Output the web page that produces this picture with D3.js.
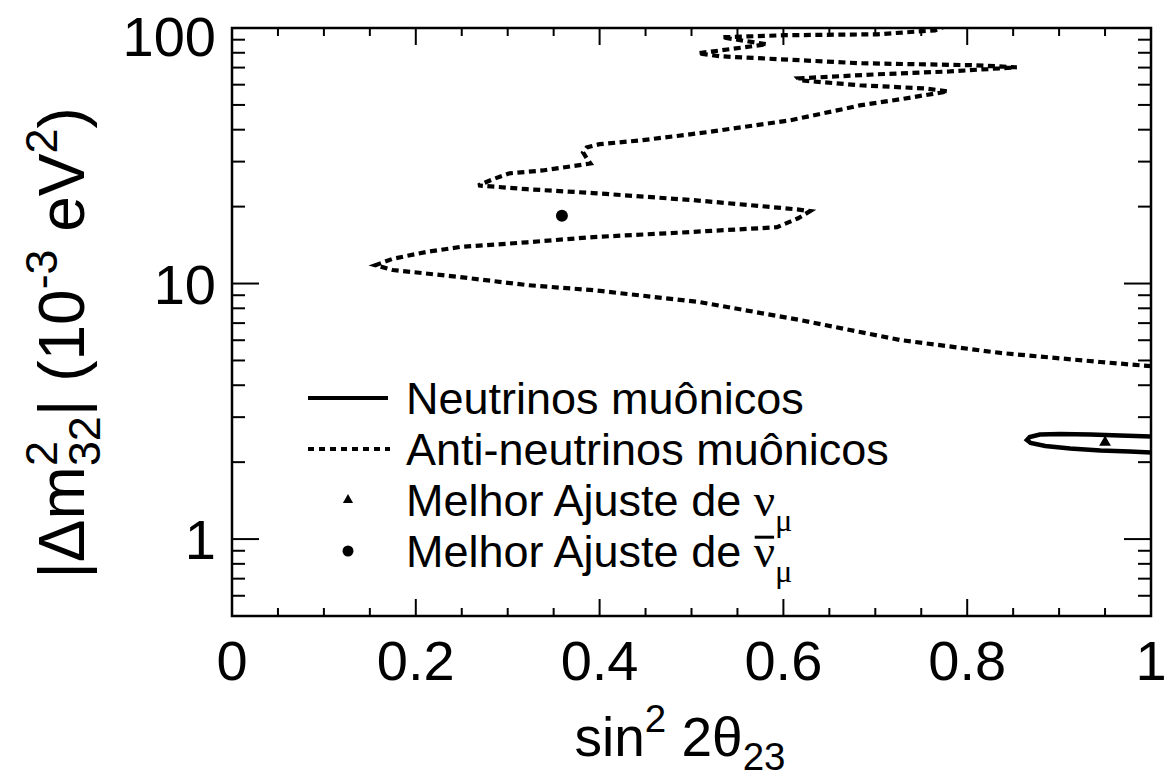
<!DOCTYPE html>
<html>
<head>
<meta charset="utf-8">
<script src="https://cdn.jsdelivr.net/npm/d3@7"></script>
<style>
  body { margin: 0; background: #fff; }
  text { font-family: "Liberation Sans", Arial, Helvetica, sans-serif; fill: #000; }
</style>
</head>
<body>
<svg id="chart" width="1171" height="780"></svg>
<script>
// Axis ranges and tick labels
const xDomain = [0, 1];
const yDomain = [0.5, 100];
const xTickValues = [0, 0.2, 0.4, 0.6, 0.8, 1];
const xTickLabels = ["0", "0.2", "0.4", "0.6", "0.8", "1"];
const yTickValues = [1, 10, 100];
const yTickLabels = ["1", "10", "100"];

// 90% C.L. contour for muon anti-neutrinos (sin^2 2theta, |dm^2| in 1e-3 eV^2)
const antiSin = [1.000, 0.945, 0.836, 0.727, 0.618, 0.509, 0.393, 0.321, 0.248, 0.175,
                 0.156, 0.175, 0.212, 0.248, 0.321, 0.393, 0.484, 0.593, 0.616, 0.629,
                 0.615, 0.575, 0.502, 0.393, 0.321, 0.268, 0.284, 0.302, 0.338, 0.390,
                 0.386, 0.382, 0.386, 0.400, 0.447, 0.517, 0.607, 0.669, 0.683, 0.727,
                 0.779, 0.754, 0.683, 0.618, 0.616, 0.702, 0.781, 0.854, 0.808, 0.683,
                 0.618, 0.531, 0.507, 0.582, 0.533, 0.602, 0.702, 0.765, 0.776];
const antiDm = [4.75, 4.93, 5.35, 6.01, 7.20, 8.46, 9.42, 9.86, 10.6, 11.3,
                11.8, 12.5, 13.3, 13.9, 14.5, 15.2, 15.8, 16.6, 18.0, 19.2,
                19.5, 20.1, 21.2, 22.6, 23.4, 24.2, 25.6, 27.0, 27.7, 29.5,
                30.9, 32.6, 34.1, 35.1, 36.4, 39.1, 43.5, 48.5, 49.8, 52.6,
                56.5, 58.0, 59.7, 62.4, 63.5, 65.9, 67.6, 70.2, 71.5, 72.8,
                74.8, 77.5, 79.6, 86.3, 92.0, 93.7, 94.5, 97.9, 101.6];

// 90% C.L. contour for muon neutrinos
const nuSin = [1.02, 1.000, 0.966, 0.934, 0.901, 0.879, 0.868, 0.865, 0.869, 0.885, 0.912, 0.945, 0.977, 1.000, 1.02];
const nuDm  = [2.51, 2.520, 2.544, 2.567, 2.578, 2.567, 2.508, 2.442, 2.377, 2.314, 2.262, 2.222, 2.202, 2.183, 2.17];

// Best-fit points
const bestNu = { sin: 0.950, dm: 2.39 };
const bestAnti = { sin: 0.359, dm: 18.4 };

const legendLabels = ["Neutrinos muônicos", "Anti-neutrinos muônicos", "Melhor Ajuste de ", "Melhor Ajuste de "];

// Layout
const frame = { left: 232, right: 1151, top: 28, bottom: 616 };
const svg = d3.select("#chart");

const x = d3.scaleLinear().domain(xDomain).range([frame.left, frame.right]);
const y = d3.scaleLog().domain(yDomain).range([frame.bottom, frame.top]);

svg.append("defs").append("clipPath").attr("id", "plotClip")
  .append("rect")
  .attr("x", frame.left).attr("y", frame.top)
  .attr("width", frame.right - frame.left).attr("height", frame.bottom - frame.top);

// Tick sets
const xMinor = d3.range(0, 21).map(i => i * 0.05).filter(v => !xTickValues.some(t => Math.abs(t - v) < 1e-9));
const yMinor = [];
[0.1, 1, 10].forEach(dec => { for (let k = 2; k <= 9; k++) { const v = dec * k; if (v >= yDomain[0] && v <= yDomain[1]) yMinor.push(v); } });

const tickG = svg.append("g").attr("stroke", "#000").attr("stroke-width", 2);
const xMajLen = 17, xMinLen = 8, yMajLen = 27, yMinLen = 13;

// bottom and top x ticks
xTickValues.forEach(v => {
  tickG.append("line").attr("x1", x(v)).attr("x2", x(v)).attr("y1", frame.bottom).attr("y2", frame.bottom - xMajLen);
  tickG.append("line").attr("x1", x(v)).attr("x2", x(v)).attr("y1", frame.top).attr("y2", frame.top + xMajLen);
});
xMinor.forEach(v => {
  tickG.append("line").attr("x1", x(v)).attr("x2", x(v)).attr("y1", frame.bottom).attr("y2", frame.bottom - xMinLen);
  tickG.append("line").attr("x1", x(v)).attr("x2", x(v)).attr("y1", frame.top).attr("y2", frame.top + xMinLen);
});
// left and right y ticks
yTickValues.forEach(v => {
  tickG.append("line").attr("x1", frame.left).attr("x2", frame.left + yMajLen).attr("y1", y(v)).attr("y2", y(v));
  tickG.append("line").attr("x1", frame.right).attr("x2", frame.right - yMajLen).attr("y1", y(v)).attr("y2", y(v));
});
yMinor.forEach(v => {
  tickG.append("line").attr("x1", frame.left).attr("x2", frame.left + yMinLen).attr("y1", y(v)).attr("y2", y(v));
  tickG.append("line").attr("x1", frame.right).attr("x2", frame.right - yMinLen).attr("y1", y(v)).attr("y2", y(v));
});

// Frame
svg.append("rect")
  .attr("x", frame.left).attr("y", frame.top)
  .attr("width", frame.right - frame.left).attr("height", frame.bottom - frame.top)
  .attr("fill", "none").attr("stroke", "#000").attr("stroke-width", 2.5);

// Tick labels (the top label is nudged down so it stays inside the canvas)
const tickFont = 56;
svg.append("g").selectAll("text").data(xTickValues).join("text")
  .attr("x", d => x(d)).attr("y", 680)
  .attr("text-anchor", "middle").attr("font-size", tickFont)
  .text((d, i) => xTickLabels[i]);
svg.append("g").selectAll("text").data(yTickValues).join("text")
  .attr("x", 216).attr("y", d => y(d) + tickFont * 0.36 + (d === 100 ? 8 : 0))
  .attr("text-anchor", "end").attr("font-size", tickFont)
  .text((d, i) => yTickLabels[i]);

// Axis titles
const xFont = 55;
const xt = svg.append("text").attr("x", 680).attr("y", 756).attr("text-anchor", "middle").attr("font-size", xFont);
xt.append("tspan").text("sin");
xt.append("tspan").attr("font-size", xFont * 0.7).attr("dy", -24).text("2");
xt.append("tspan").attr("dy", 24).text(" 2θ");
xt.append("tspan").attr("font-size", xFont * 0.7).attr("dy", 14).text("23");

const yFont = 64;
const sub = yFont * 0.7;
const yt = svg.append("text").attr("transform", "translate(84,343) rotate(-90)")
  .attr("text-anchor", "middle").attr("font-size", yFont);
yt.append("tspan").text("|Δm");
yt.append("tspan").attr("font-size", sub).attr("dy", -27).text("2");
yt.append("tspan").attr("font-size", sub).attr("dx", -sub * 0.556).attr("dy", 43).text("32");
yt.append("tspan").attr("dy", -16).text("| (10");
yt.append("tspan").attr("font-size", sub).attr("dy", -27).text("-3");
yt.append("tspan").attr("dy", 27).text(" eV");
yt.append("tspan").attr("font-size", sub).attr("dy", -27).text("2");
yt.append("tspan").attr("dy", 27).text(")");

// Contours
const plot = svg.append("g").attr("clip-path", "url(#plotClip)");
const line = d3.line().x(d => x(d[0])).y(d => y(d[1]));

plot.append("path")
  .datum(antiSin.map((s, i) => [s, antiDm[i]]))
  .attr("d", line)
  .attr("fill", "none").attr("stroke", "#000").attr("stroke-width", 4.2)
  .attr("stroke-dasharray", "7,4.5");

plot.append("path")
  .datum(nuSin.map((s, i) => [s, nuDm[i]]))
  .attr("d", line)
  .attr("fill", "none").attr("stroke", "#000").attr("stroke-width", 4.5);

// Best-fit markers
const tri = d3.symbol().type(d3.symbolTriangle).size(60);
plot.append("path").attr("d", tri)
  .attr("transform", `translate(${x(bestNu.sin)},${y(bestNu.dm)})`).attr("fill", "#000");
plot.append("circle").attr("cx", x(bestAnti.sin)).attr("cy", y(bestAnti.dm)).attr("r", 6).attr("fill", "#000");

// Legend
const legFont = 45;
const legX = 406;
const rowY = [398, 449, 500, 551];
const serif = "'Liberation Serif', 'Times New Roman', serif";
const leg = svg.append("g");
leg.append("line").attr("x1", 308).attr("x2", 388).attr("y1", rowY[0]).attr("y2", rowY[0])
  .attr("stroke", "#000").attr("stroke-width", 4);
leg.append("line").attr("x1", 308).attr("x2", 390).attr("y1", rowY[1]).attr("y2", rowY[1])
  .attr("stroke", "#000").attr("stroke-width", 4).attr("stroke-dasharray", "6,5");
leg.append("path").attr("d", d3.symbol().type(d3.symbolTriangle).size(45))
  .attr("transform", `translate(348,${rowY[2]})`).attr("fill", "#000");
leg.append("circle").attr("cx", 348).attr("cy", rowY[3]).attr("r", 5.5).attr("fill", "#000");

legendLabels.forEach((lab, i) => {
  const base = rowY[i] + legFont * 0.36;
  const t = leg.append("text").attr("x", legX).attr("y", base).attr("font-size", legFont);
  t.append("tspan").text(lab);
  if (i >= 2) {
    t.append("tspan").attr("font-family", serif).attr("font-size", legFont * 1.05).text("ν");
    t.append("tspan").attr("font-family", serif).attr("font-size", legFont * 0.72).attr("dy", 15).text("μ");
    if (i === 3) {
      // bar over the anti-neutrino symbol
      const ext = t.node().getExtentOfChar(lab.length);
      leg.append("line")
        .attr("x1", ext.x + 1).attr("x2", ext.x + ext.width - 1)
        .attr("y1", base - 30).attr("y2", base - 30)
        .attr("stroke", "#000").attr("stroke-width", 3);
    }
  }
});
</script>
</body>
</html>
